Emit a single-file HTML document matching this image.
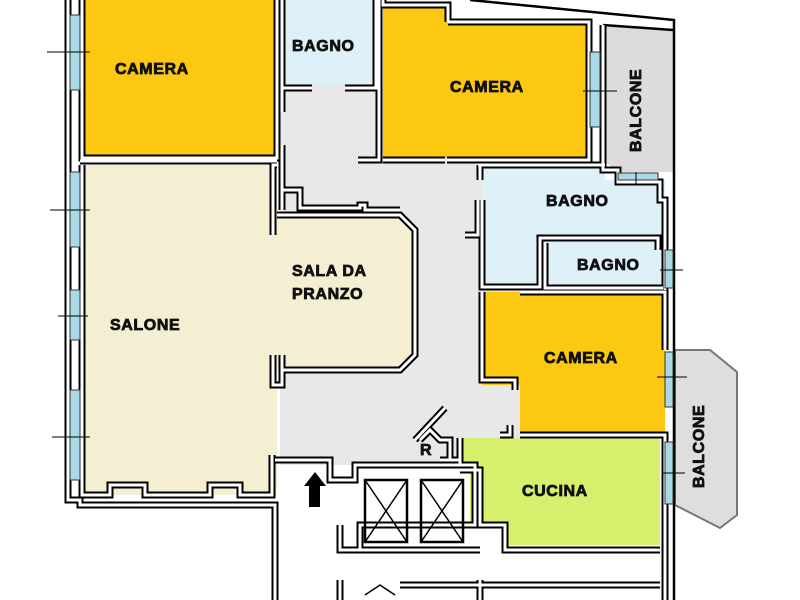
<!DOCTYPE html>
<html><head><meta charset="utf-8"><style>
html,body{margin:0;padding:0;background:#fff;width:800px;height:600px;overflow:hidden}
svg text{font-family:"Liberation Sans",Arial,sans-serif;font-weight:bold;font-size:16px;letter-spacing:0.6px;fill:#111;stroke:#111;stroke-width:0.8}
</style></head><body>
<svg width="800" height="600" viewBox="0 0 800 600" xmlns="http://www.w3.org/2000/svg">
<defs>
<g id="walls" fill="none" stroke-linejoin="miter">
<path d="M68,0 V500 H80 V505 H275 V600"/>
<path d="M82,0 V158 H277 V0"/>
<path d="M82,165 V495 H110 V485 H145 V495 H210 V485 H240 V495 H272 V455"/>
<path d="M80,161 H277 M277,165 H273 V235 M277,215 H400 L415,230 V355 L400,370 H282 M282,210 V190 H300 V208 H360 V205 H365 V210 H400"/>
<path d="M273,355 V385 H282 V355"/>
<path d="M282,0 V112 M282,88 H312 M345,88 H376 V0 M282,145 V190"/>
<path d="M383,0 V5 H448 V22 M379,0 V160 H358 M383,160 H445 M447,160 H589 V22 M448,22 H589 V50 M589,130 V160"/>
<path d="M603,25 V170 H618 V182 H660 V200 H665 V290"/>
<path d="M478,165 H605 M482,200 V287 H540 V238 H658 V250 M545,243 V288 H663"/>
<path d="M480,165 V180 M465,235 H478 V200"/>
<path d="M482,292 V380 H515 V390 M520,292 H665 V350 M520,435 H665 V440 M500,435 H510 V425"/>
<path d="M460,438 V465 M665,440 V600 M660,550 H505 V525 H480 V470 H460"/>
<path d="M275,460 H330 V480 H355 V465 H475 V525 H360 V550 H340 V525 M360,550 H480"/>
<path d="M440,460 H460 M420,440 L430,430 L440,440 H450 V460 M415,440 L445,408 M400,585 H660 M340,580 V600 M480,580 V600"/>
</g>
</defs>
<!-- fills -->
<rect x="280" y="85" width="200" height="380" fill="#e8e8e8"/>
<rect x="415" y="160" width="110" height="280" fill="#e8e8e8"/>
<rect x="80" y="0" width="197" height="160" fill="#fdc812"/>
<polygon points="80,165 277,165 277,215 400,215 415,230 415,355 400,370 277,370 277,495 80,495" fill="#f4eed2"/>
<rect x="282" y="0" width="94" height="85" fill="#dff1f8"/>
<polygon points="383,5 448,5 448,22 587,22 587,158 383,158" fill="#fdc812"/>
<polygon points="603,25 673,30 673,172 618,172 603,160" fill="#dcdcdc"/>
<polygon points="482,165 605,165 605,180 665,180 665,290 482,290" fill="#dff1f8"/>
<polygon points="482,292 665,292 665,432 520,432 520,385 482,385" fill="#fdc812"/>
<polygon points="460,438 660,438 660,545 505,545 505,525 470,525 470,470 460,460" fill="#d6f06e"/>
<polygon points="675,350 710,350 737,372 737,515 720,528 675,505" fill="#dedede" stroke="#777" stroke-width="2"/>
<path d="M470,0 L674,20 V600 M603,25 L673,30" stroke="#000" stroke-width="2.5" fill="none"/>
<use href="#walls" stroke="#000" stroke-width="7"/>
<use href="#walls" stroke="#fff" stroke-width="3"/>
<!-- stair/elevator -->
<g fill="none" stroke="#000" stroke-width="1.5">
<rect x="365" y="480" width="42" height="62" stroke-width="2.5"/><rect x="421" y="480" width="42" height="62" stroke-width="2.5"/>
<path d="M365,480 L407,542 M407,480 L365,542 M421,480 L463,542 M463,480 L421,542"/>
<path d="M365,595 L380,585 L395,595"/>
</g>
<polygon points="304,486 315,472 326,486 320,486 320,507 309,507 309,486" fill="#000"/>
<!-- windows -->
<g fill="#a9d8e6" stroke="#333" stroke-width="1">
<rect x="70" y="15" width="10" height="75"/><rect x="70" y="172" width="10" height="75"/>
<rect x="70" y="290" width="10" height="50"/><rect x="70" y="390" width="10" height="90"/>
<rect x="590" y="52" width="10" height="75"/><rect x="618" y="173" width="40" height="7"/>
<rect x="665" y="250" width="8" height="38"/><rect x="665" y="352" width="8" height="55"/>
<rect x="665" y="442" width="8" height="62"/>
</g>
<g stroke="#000" stroke-width="1">
<path d="M47,52 H90 M50,210 H90 M58,316 H88 M52,437 H90 M583,91 H617 M636,172 V185 M660,270 H683 M657,377 H687 M662,473 H685"/>
</g>
<!-- labels -->
<text x="115" y="74">CAMERA</text>
<text x="292" y="51">BAGNO</text>
<text x="450" y="92">CAMERA</text>
<text x="546" y="206">BAGNO</text>
<text x="577" y="270">BAGNO</text>
<text x="292" y="276">SALA DA</text>
<text x="292" y="299">PRANZO</text>
<text x="110" y="330">SALONE</text>
<text x="544" y="363">CAMERA</text>
<text x="522" y="496">CUCINA</text>
<text x="420" y="455">R</text>
<text transform="translate(641,152) rotate(-90)">BALCONE</text>
<text transform="translate(704,488) rotate(-90)">BALCONE</text>
</svg>
</body></html>
